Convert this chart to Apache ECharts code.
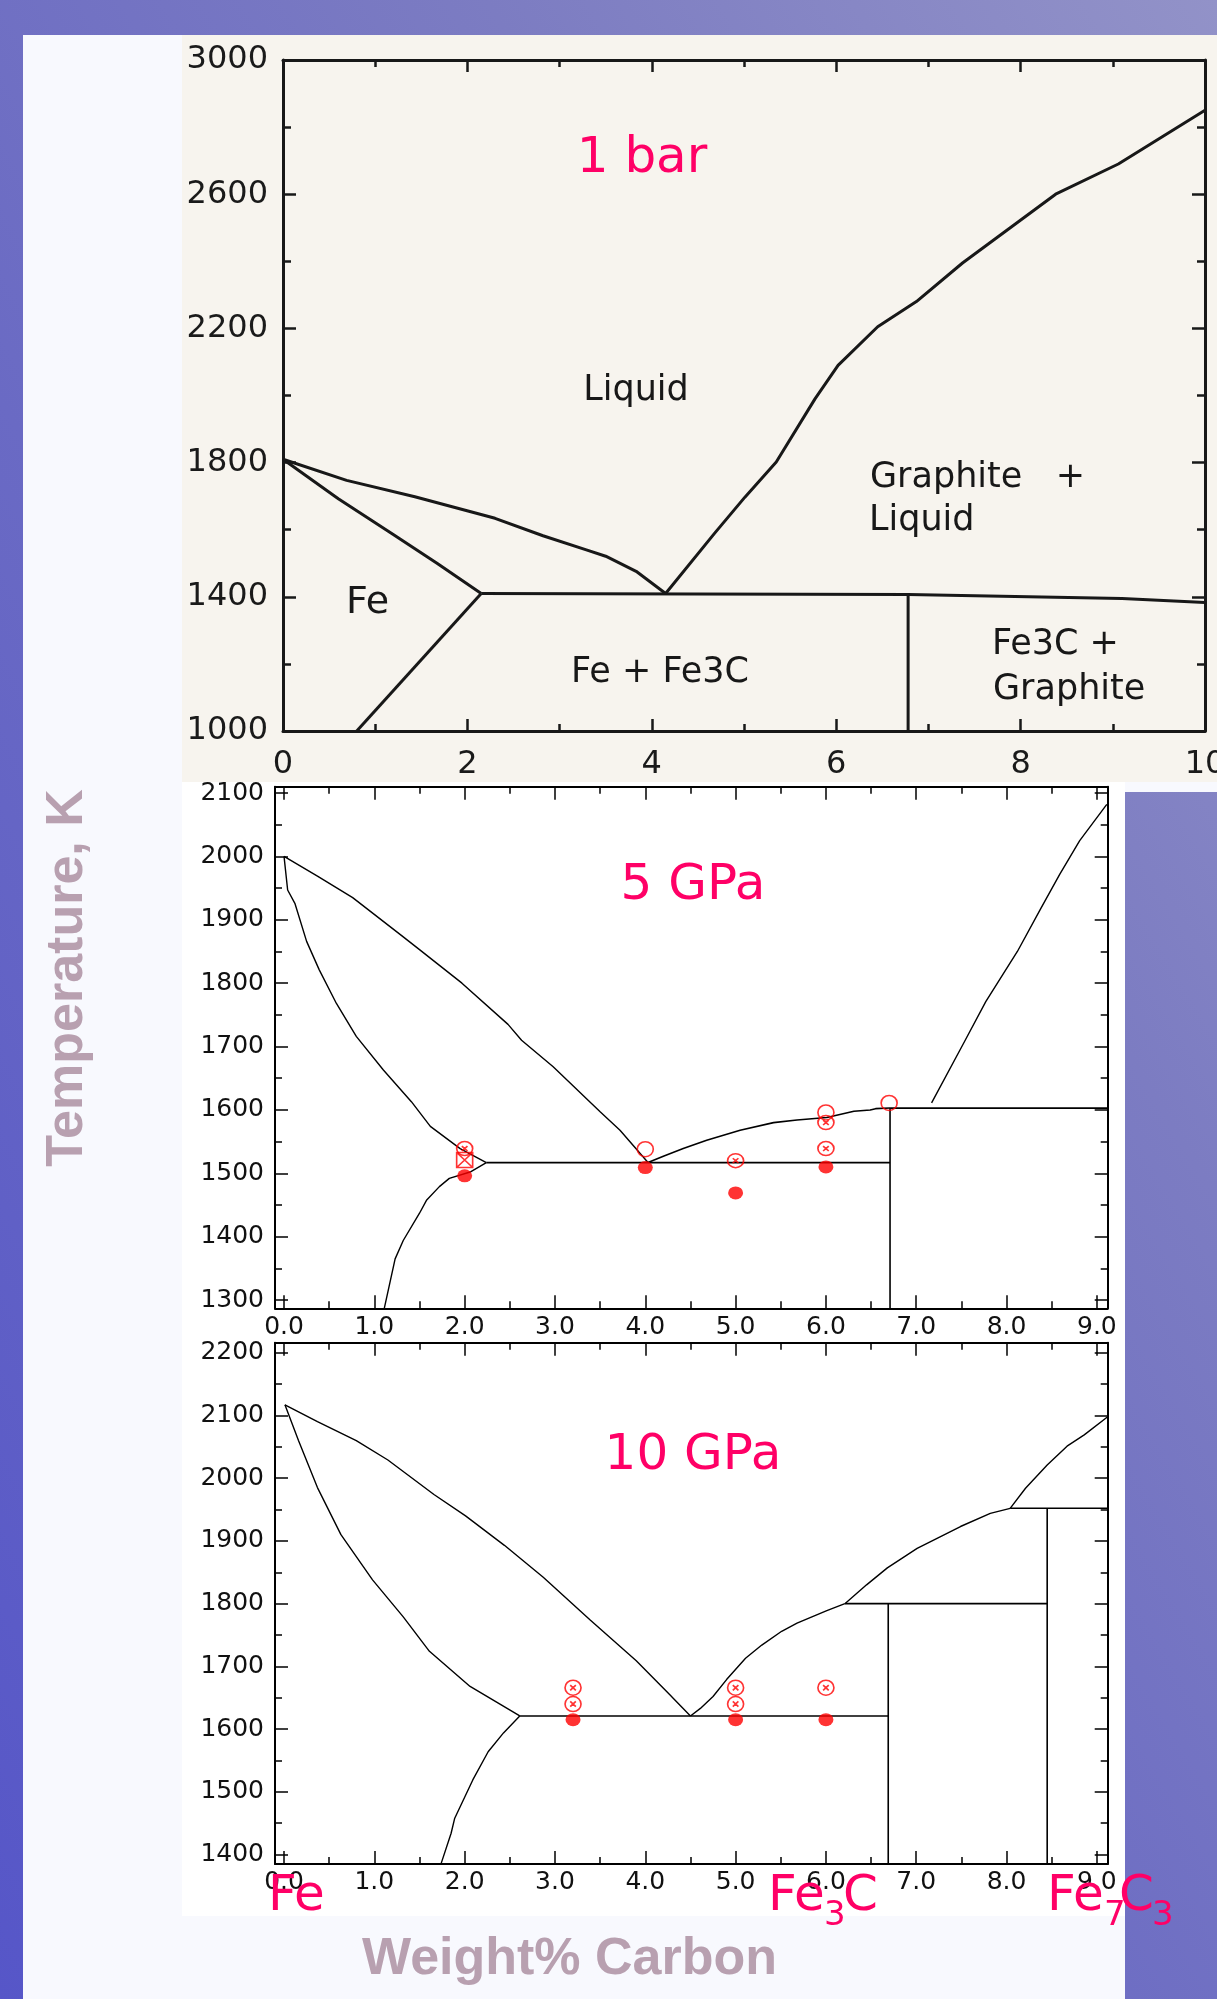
<!DOCTYPE html>
<html>
<head>
<meta charset="utf-8">
<title>Fe–C phase diagrams at 1 bar, 5 GPa and 10 GPa</title>
<script src="https://cdn.jsdelivr.net/npm/echarts@6/dist/echarts.min.js"></script>
<style>
  html, body { margin: 0; padding: 0; }
  body {
    width: 1217px; height: 1999px; overflow: hidden; position: relative;
    background: linear-gradient(to top right, #5656c8 0%, #6a6ac4 40%, #7c7cc2 70%, #9292c8 100%);
  }
  .panel { position: absolute; }
  #chart { position: absolute; left: 0; top: 0; width: 1217px; height: 1999px; }
</style>
</head>
<body>
<div class="panel" style="left:23px;top:35px;width:1194px;height:757px;background:#f8f9fe"></div>
<div class="panel" style="left:23px;top:792px;width:1102px;height:1207px;background:#f8f9fe"></div>
<div class="panel" style="left:182px;top:35px;width:1035px;height:747px;background:#f7f4ee"></div>
<div class="panel" style="left:182px;top:782px;width:943px;height:1134px;background:#ffffff"></div>
<div id="chart"></div>
<script>
// ---------- 1 bar (wt% C, K) ----------
const liquidusFe1bar   = [[0,1810],[0.69,1747],[1.43,1698],[2.3,1634],[2.82,1582],[3.29,1540],[3.5,1521],[3.83,1476],[4.15,1410]];
const solidusFe1bar    = [[0,1810],[0.6,1692],[1.2,1585],[1.67,1500],[2.15,1410]];
const solvusFe1bar     = [[2.15,1410],[0.8,1000]];
const eutectic1bar     = [[2.15,1410],[6.78,1407],[9.1,1395],[10,1383]];
const cementite1bar    = [[6.78,1407],[6.78,1000]];
const graphiteLiq1bar  = [[4.15,1410],[4.68,1589],[5.01,1697],[5.35,1802],[5.77,1990],[6.02,2090],[6.45,2205],[6.87,2280],[7.37,2395],[8.38,2600],[9.06,2690],[10,2850]];

// ---------- 5 GPa ----------
const liquidusFe5      = [[0,2000],[0.37,1969],[0.76,1935],[1.32,1873],[1.5,1853],[1.97,1800],[2.48,1735],[2.63,1710],[2.98,1668],[3.5,1597],[3.72,1568],[4.03,1517]];
const solidusFe5       = [[0,2000],[0.04,1947],[0.12,1926],[0.25,1866],[0.39,1821],[0.58,1768],[0.8,1716],[1.1,1663],[1.41,1613],[1.62,1574],[1.95,1539],[2.24,1517]];
const solvusFe5        = [[2.24,1517],[2.06,1502],[1.83,1492],[1.72,1479],[1.58,1458],[1.5,1437],[1.32,1394],[1.23,1365],[1.11,1287]];
const eutectic5        = [[2.24,1517],[6.71,1517]];
const cementiteLiq5    = [[4.03,1517],[4.2,1527],[4.42,1539],[4.68,1552],[5.05,1568],[5.42,1580],[5.68,1584],[6.01,1588],[6.31,1598],[6.49,1600],[6.55,1602],[6.71,1603]];
const cementite5       = [[6.71,1603],[6.71,1287]];
const peritectic5      = [[6.71,1603],[9.12,1603]];
const graphiteLiq5     = [[7.17,1611],[7.52,1704],[7.77,1771],[8.12,1850],[8.38,1918],[8.59,1972],[8.81,2025],[9.11,2082]];
const filled5          = [[2,1496],[4,1509],[5,1469],[6,1510]];
const crossedCircle5   = [[2,1539],[5,1520],[6,1580],[6,1539]];
const openCircle5      = [[4,1538],[6,1596],[6.7,1611]];
const crossedSquare5   = [[2,1521]];

// ---------- 10 GPa ----------
const liquidusFe10     = [[0.01,2117],[0.37,2090],[0.8,2060],[1.15,2029],[1.66,1974],[2.01,1940],[2.44,1893],[2.87,1842],[3.39,1774],[3.9,1709],[4.25,1658],[4.5,1621]];
const solidusFe10      = [[0.01,2117],[0.16,2060],[0.37,1985],[0.63,1910],[0.98,1838],[1.32,1779],[1.61,1724],[2.06,1668],[2.61,1621]];
const solvusFe10       = [[2.61,1621],[2.43,1594],[2.26,1564],[2.09,1519],[1.89,1458],[1.85,1434],[1.74,1386]];
const eutectic10       = [[2.61,1621],[6.69,1621]];
const cementiteLiq10   = [[4.5,1621],[4.61,1633],[4.75,1652],[4.9,1679],[5.11,1713],[5.29,1734],[5.51,1756],[5.68,1769],[6.01,1789],[6.21,1800]];
const cementite10      = [[6.69,1800],[6.69,1385]];
const peritectic10     = [[6.21,1800],[8.45,1800]];
const fe7c3Liq10       = [[6.21,1800],[6.45,1830],[6.68,1857],[7.01,1888],[7.49,1923],[7.82,1944],[8.04,1952]];
const fe7c3Line10      = [[8.45,1952],[8.45,1385]];
const fe7c3Peri10      = [[8.04,1952],[9.12,1952]];
const graphiteLiq10    = [[8.04,1952],[8.21,1984],[8.45,2021],[8.67,2051],[8.86,2069],[9.12,2098]];
const filled10         = [[3.2,1615],[5,1615],[6,1615]];
const crossedCircle10  = [[3.2,1666],[3.2,1640],[5,1666],[5,1640],[6,1666]];

// ---------- tick values for the two high-pressure panels ----------
const xMajorTicks  = [0,1,2,3,4,5,6,7,8,9];
const xMinorTicks  = [0.5,1.5,2.5,3.5,4.5,5.5,6.5,7.5,8.5];
const yMajorTicks5 = [1300,1400,1500,1600,1700,1800,1900,2000,2100];
const yMinorTicks5 = [1350,1450,1550,1650,1750,1850,1950,2050];
const yMajorTicks10 = [1400,1500,1600,1700,1800,1900,2000,2100,2200];
const yMinorTicks10 = [1450,1550,1650,1750,1850,1950,2050,2150];

const INK = '#000000';
const SCAN = '#181818';
const PINK = '#ff0066';
const MAUVE = '#b8a0b0';
const RED = '#ff0000';

const tickFont = { fontFamily: 'DejaVu Sans', fontSize: 25, color: '#111' };

function scanX(pos, labels) {
  return {
    gridIndex: 0, type: 'value', min: 0, max: 10, interval: 2, position: pos,
    axisLine: { show: true, onZero: false, lineStyle: { color: SCAN, width: 3 } },
    axisTick: { show: true, inside: true, length: 12, lineStyle: { color: SCAN, width: 2.5 } },
    minorTick: { show: true, splitNumber: 2, length: 7, lineStyle: { color: SCAN, width: 2.5 } },
    axisLabel: { show: labels, margin: 18, formatter: v => String(v), fontFamily: 'DejaVu Sans', fontSize: 32, color: '#1a1a1a' },
    splitLine: { show: false }, minorSplitLine: { show: false }
  };
}
function scanY(pos, labels) {
  return {
    gridIndex: 0, type: 'value', min: 1000, max: 3000, interval: 400, position: pos,
    axisLine: { show: true, onZero: false, lineStyle: { color: SCAN, width: 3 } },
    axisTick: { show: true, inside: true, length: 13, lineStyle: { color: SCAN, width: 2.5 } },
    minorTick: { show: true, splitNumber: 2, length: 8, lineStyle: { color: SCAN, width: 2.5 } },
    axisLabel: { show: labels, margin: 15, formatter: v => String(v), fontFamily: 'DejaVu Sans', fontSize: 32, color: '#1a1a1a' },
    splitLine: { show: false }, minorSplitLine: { show: false }
  };
}

// four axes per side: labelled major, minor, mirrored major, mirrored minor
function frameAxes(grid, dim, min, max, major, minor, margin) {
  const sideA = dim === 'x' ? 'bottom' : 'left';
  const sideB = dim === 'x' ? 'top' : 'right';
  const base = { gridIndex: grid, type: 'value', min: min, max: max, splitLine: { show: false } };
  const solid = { show: true, onZero: false, lineStyle: { color: INK, width: 2 } };
  const hidden = { show: false, onZero: false };
  const tick = (vals, len) => ({ show: true, inside: true, length: len, customValues: vals, lineStyle: { color: INK, width: 1.5 } });
  const fmt = dim === 'x' ? (v => Number(v).toFixed(1)) : (v => String(v));
  return [
    Object.assign({}, base, { position: sideA, axisLine: solid, axisTick: tick(major, 13),
      axisLabel: Object.assign({ show: true, customValues: major, formatter: fmt, margin: margin }, tickFont) }),
    Object.assign({}, base, { position: sideA, axisLine: hidden, axisTick: tick(minor, 7), axisLabel: { show: false } }),
    Object.assign({}, base, { position: sideB, axisLine: solid, axisTick: tick(major, 13), axisLabel: { show: false } }),
    Object.assign({}, base, { position: sideB, axisLine: hidden, axisTick: tick(minor, 7), axisLabel: { show: false } })
  ];
}

const xAxes = [scanX('bottom', true), scanX('top', false)]
  .concat(frameAxes(1, 'x', -0.1, 9.12, xMajorTicks, xMinorTicks, 7))
  .concat(frameAxes(2, 'x', -0.1, 9.12, xMajorTicks, xMinorTicks, 6))
  ;
const yAxes = [scanY('left', true), scanY('right', false)]
  .concat(frameAxes(1, 'y', 1287, 2110, yMajorTicks5, yMinorTicks5, 11))
  .concat(frameAxes(2, 'y', 1385, 2216, yMajorTicks10, yMinorTicks10, 11));

function boundary(data, axis, width, color) {
  return { type: 'line', data: data, xAxisIndex: axis, yAxisIndex: axis, symbol: 'none', showSymbol: false,
    silent: true, clip: false, z: 3, lineStyle: { color: color, width: width } };
}

const CROSSED_CIRCLE = 'path://M0,10A10,10 0 1,1 20,10A10,10 0 1,1 0,10Z M6.5,6.5L13.5,13.5 M13.5,6.5L6.5,13.5';
const OPEN_CIRCLE = 'path://M0,10A10,10 0 1,1 20,10A10,10 0 1,1 0,10Z';
const CROSSED_SQUARE = 'path://M0,0L20,0L20,20L0,20Z M0,0L20,20 M20,0L0,20';

function markers(data, axis, symbol, size, filled) {
  return { type: 'scatter', data: data, xAxisIndex: axis, yAxisIndex: axis, symbol: symbol, symbolSize: size,
    silent: true, z: 6,
    itemStyle: filled ? { color: RED } : { color: 'rgba(0,0,0,0)', borderColor: RED, borderWidth: 1.6 } };
}

const series = [
  boundary(liquidusFe1bar, 0, 3, SCAN),
  boundary(solidusFe1bar, 0, 3, SCAN),
  boundary(solvusFe1bar, 0, 3, SCAN),
  boundary(eutectic1bar, 0, 3, SCAN),
  boundary(cementite1bar, 0, 3, SCAN),
  boundary(graphiteLiq1bar, 0, 3, SCAN),

  boundary(liquidusFe5, 2, 1.4, INK),
  boundary(solidusFe5, 2, 1.4, INK),
  boundary(solvusFe5, 2, 1.4, INK),
  boundary(eutectic5, 2, 1.8, INK),
  boundary(cementiteLiq5, 2, 1.6, INK),
  boundary(cementite5, 2, 1.6, INK),
  boundary(peritectic5, 2, 1.8, INK),
  boundary(graphiteLiq5, 2, 1.4, INK),
  markers(filled5, 2, 'circle', [15, 13], true),
  markers(crossedCircle5, 2, CROSSED_CIRCLE, [16, 14], false),
  markers(openCircle5, 2, OPEN_CIRCLE, [16, 15], false),
  markers(crossedSquare5, 2, CROSSED_SQUARE, [16, 15], false),

  boundary(liquidusFe10, 6, 1.4, INK),
  boundary(solidusFe10, 6, 1.4, INK),
  boundary(solvusFe10, 6, 1.4, INK),
  boundary(eutectic10, 6, 1.6, INK),
  boundary(cementiteLiq10, 6, 1.4, INK),
  boundary(cementite10, 6, 1.6, INK),
  boundary(peritectic10, 6, 1.6, INK),
  boundary(fe7c3Liq10, 6, 1.4, INK),
  boundary(fe7c3Line10, 6, 1.6, INK),
  boundary(fe7c3Peri10, 6, 1.6, INK),
  boundary(graphiteLiq10, 6, 1.4, INK),
  markers(filled10, 6, 'circle', [15, 13], true),
  markers(crossedCircle10, 6, CROSSED_CIRCLE, [16, 15], false)
];

function txt(text, x, y, size, color, align, opts) {
  return Object.assign({
    type: 'text', x: x, y: y, z: 50, silent: true,
    style: { text: text, fill: color, fontSize: size, fontFamily: 'DejaVu Sans',
      align: align, verticalAlign: 'middle' }
  }, opts || {});
}

const annotations = [
  // panel titles
  txt('1 bar', 642, 158.7, 50, PINK, 'center'),
  txt('5 GPa', 693, 885.7, 50, PINK, 'center'),
  txt('10 GPa', 693, 1456, 50, PINK, 'center'),
  // phase fields at 1 bar
  txt('Liquid', 636, 390.9, 35, SCAN, 'center'),
  txt('Graphite   +', 870, 477.9, 35, SCAN, 'left'),
  txt('Liquid', 869, 520.6, 35, SCAN, 'left'),
  txt('Fe', 346, 603.6, 38, SCAN, 'left'),
  txt('Fe + Fe3C', 660, 672.6, 35, SCAN, 'center'),
  txt('Fe3C +', 992, 645.2, 35, SCAN, 'left'),
  txt('Graphite', 993, 689.6, 35, SCAN, 'left'),
  // compositions along the carbon axis
  txt('Fe', 268, 1897, 50, PINK, 'left'),
  txt('Fe', 768, 1897, 50, PINK, 'left'),
  txt('3', 824, 1916, 34, PINK, 'left'),
  txt('C', 843, 1897, 50, PINK, 'left'),
  txt('Fe', 1047, 1897, 50, PINK, 'left'),
  txt('7', 1104, 1916, 34, PINK, 'left'),
  txt('C', 1119, 1897, 50, PINK, 'left'),
  txt('3', 1152, 1916, 34, PINK, 'left'),
  // axis titles
  { type: 'text', x: 362, y: 1960, z: 50, silent: true,
    style: { text: 'Weight% Carbon', fill: MAUVE, fontSize: 52, fontWeight: 'bold',
      fontFamily: 'Liberation Sans', align: 'left', verticalAlign: 'middle' } },
  { type: 'text', x: 68, y: 978, z: 50, silent: true, rotation: Math.PI / 2,
    style: { text: 'Temperature, K', fill: MAUVE, fontSize: 52, fontWeight: 'bold',
      fontFamily: 'Liberation Sans', align: 'center', verticalAlign: 'middle' } }
];

const chart = echarts.init(document.getElementById('chart'), null, { renderer: 'canvas', width: 1217, height: 1999 });
chart.setOption({
  animation: false,
  backgroundColor: 'transparent',
  grid: [
    { left: 283, top: 60, width: 922, height: 671, show: false, containLabel: false, outerBoundsMode: 'none' },
    { left: 275, top: 786.7, width: 832.7, height: 521.6, show: false, containLabel: false, outerBoundsMode: 'none' },
    { left: 275, top: 1342.7, width: 832.7, height: 521.3, show: false, containLabel: false, outerBoundsMode: 'none' }
  ],
  xAxis: xAxes,
  yAxis: yAxes,
  series: series,
  graphic: annotations
});
</script>
</body>
</html>
